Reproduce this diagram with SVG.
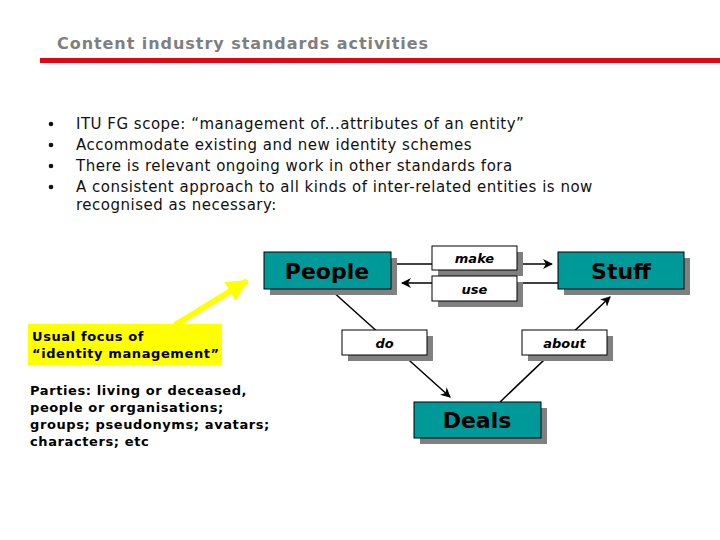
<svg xmlns="http://www.w3.org/2000/svg" width="720" height="540" viewBox="0 0 720 540">
<defs>
<marker id="ah" markerWidth="10" markerHeight="10" refX="9" refY="5" orient="auto" markerUnits="userSpaceOnUse">
<path d="M0,0 L10,5 L0,10 L3,5 Z" fill="#000"/>
</marker>
<marker id="yah" markerWidth="24" markerHeight="22" refX="20" refY="11" orient="auto" markerUnits="userSpaceOnUse">
<path d="M0,0 L22,11 L0,22 Z" fill="#FFFF00"/>
</marker>
</defs>
<style>
.title{font-family:"DejaVu Sans",Verdana,sans-serif;font-weight:bold;font-size:16px;letter-spacing:0.95px;fill:#7f7f7f}
.bul{font-family:"DejaVu Sans",Verdana,sans-serif;font-size:15px;letter-spacing:0.5px;fill:#111}
.small{font-family:"DejaVu Sans",Verdana,sans-serif;font-weight:bold;font-size:13px;letter-spacing:0.6px;fill:#000}
.big{font-family:"DejaVu Sans",Verdana,sans-serif;font-weight:bold;font-size:22px;fill:#000}
.lbl{font-family:"DejaVu Sans",Verdana,sans-serif;font-weight:bold;font-style:italic;font-size:13px;fill:#000}
.shadow{fill:#808080}
.node{fill:#009999;stroke:#000;stroke-width:1}
.lab{fill:#fff;stroke:#000;stroke-width:1}
.ln{stroke:#000;stroke-width:1.5;fill:none}
</style>
<rect width="720" height="540" fill="#fff"/>
<text class="title" x="57" y="49">Content industry standards activities</text>
<rect x="40" y="58" width="680" height="5" fill="#e30613"/>
<g id="bullets">
<circle cx="51" cy="124" r="2.3" fill="#111"/>
<circle cx="51" cy="145" r="2.3" fill="#111"/>
<circle cx="51" cy="166" r="2.3" fill="#111"/>
<circle cx="51" cy="187" r="2.3" fill="#111"/>
<text class="bul" x="76" y="129">ITU FG scope: “management of...attributes of an entity”</text>
<text class="bul" x="76" y="150">Accommodate existing and new identity schemes</text>
<text class="bul" x="76" y="171">There is relevant ongoing work in other standards fora</text>
<text class="bul" x="76" y="192">A consistent approach to all kinds of inter-related entities is now</text>
<text class="bul" x="76" y="210">recognised as necessary:</text>
</g>
<g id="connectors">
<line class="ln" x1="391" y1="264" x2="552" y2="264" marker-end="url(#ah)"/>
<line class="ln" x1="558" y1="283" x2="402" y2="283" marker-end="url(#ah)"/>
<line class="ln" x1="331" y1="290" x2="450" y2="397" marker-end="url(#ah)"/>
<line class="ln" x1="500" y1="402" x2="610" y2="297" marker-end="url(#ah)"/>
<line x1="175" y1="325" x2="247" y2="281" stroke="#FFFF00" stroke-width="6" marker-end="url(#yah)"/>
</g>
<g id="people">
<rect class="shadow" x="270" y="258" width="127" height="37"/>
<rect class="node" x="264" y="252" width="127" height="37"/>
<text class="big" x="327" y="279" text-anchor="middle">People</text>
</g>
<g id="stuff">
<rect class="shadow" x="564" y="258" width="126" height="37"/>
<rect class="node" x="558" y="252" width="126" height="37"/>
<text class="big" x="621" y="279" text-anchor="middle">Stuff</text>
</g>
<g id="deals">
<rect class="shadow" x="420" y="408" width="127" height="36"/>
<rect class="node" x="414" y="402" width="127" height="36"/>
<text class="big" x="477" y="428" text-anchor="middle">Deals</text>
</g>
<g id="make">
<rect class="shadow" x="438" y="252" width="85" height="24"/>
<rect class="lab" x="432" y="246" width="85" height="24"/>
<text class="lbl" x="474.5" y="263" text-anchor="middle">make</text>
</g>
<g id="use">
<rect class="shadow" x="438" y="282" width="85" height="25"/>
<rect class="lab" x="432" y="276" width="85" height="25"/>
<text class="lbl" x="474.5" y="294" text-anchor="middle">use</text>
</g>
<g id="do">
<rect class="shadow" x="348" y="336" width="85" height="25"/>
<rect class="lab" x="342" y="330" width="85" height="25"/>
<text class="lbl" x="384.5" y="348" text-anchor="middle">do</text>
</g>
<g id="about">
<rect class="shadow" x="528" y="336" width="85" height="25"/>
<rect class="lab" x="522" y="330" width="85" height="25"/>
<text class="lbl" x="564.5" y="348" text-anchor="middle">about</text>
</g>
<g id="focus">
<rect x="28" y="324" width="194" height="41" fill="#FFFF00"/>
<text class="small" x="32" y="341">Usual focus of</text>
<text class="small" x="32" y="358">“identity management”</text>
</g>
<g id="parties">
<text class="small" x="30" y="395">Parties: living or deceased,</text>
<text class="small" x="30" y="412">people or organisations;</text>
<text class="small" x="30" y="429">groups; pseudonyms; avatars;</text>
<text class="small" x="30" y="446">characters; etc</text>
</g>
</svg>
